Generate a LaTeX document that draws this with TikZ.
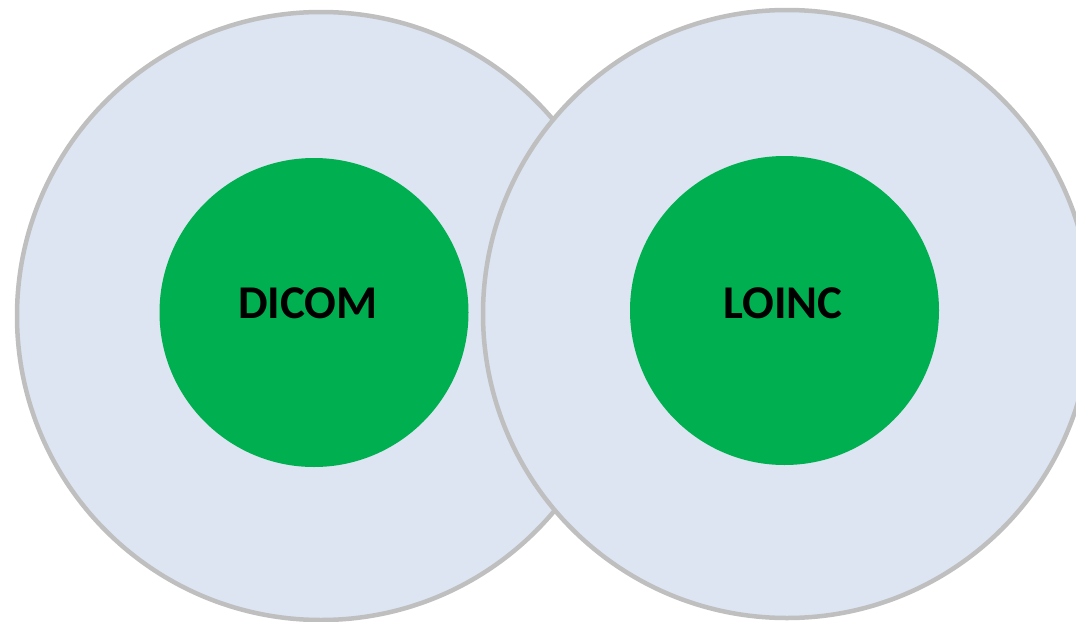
\documentclass[tikz,border=0pt]{standalone}
\usepackage{fontspec}
\setmainfont{Carlito}
\definecolor{ringfill}{HTML}{DCE5F1}
\definecolor{ringline}{HTML}{BFBFBF}
\definecolor{coregreen}{HTML}{00B050}
\tikzset{
  ring/.style={circle, draw=ringline, line width=4.5pt, fill=ringfill},
  core/.style={circle, fill=coregreen},
  label/.style={font=\fontsize{47}{50}\selectfont\bfseries, text=black, anchor=base, inner sep=0pt}
}
\begin{document}
\begin{tikzpicture}[x=1pt,y=-1pt]
  \useasboundingbox (0,0) rectangle (1076,621);
  % left standard
  \fill[ringfill] (321,316) circle (304);
  \draw[ringline, line width=4.5pt] (321,316) circle (304);
  \fill[coregreen] (314,312.5) circle (154.5);
  \node[label] (dicom) at (308,318) {DICOM};
  % right standard, drawn over the left one
  \fill[ringfill] (787,314) circle (304);
  \draw[ringline, line width=4.5pt] (787,314) circle (304);
  \fill[coregreen] (784.5,310.5) circle (154.5);
  \node[label] (loinc) at (783,318) {LOINC};
\end{tikzpicture}
\end{document}
